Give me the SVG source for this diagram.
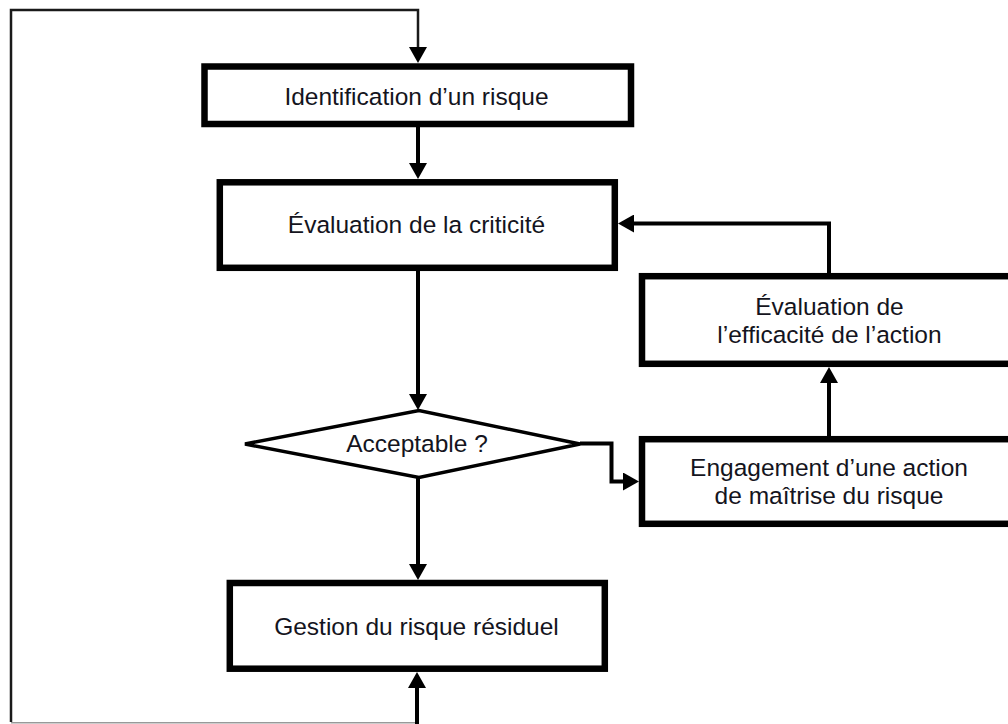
<svg xmlns="http://www.w3.org/2000/svg" width="1008" height="724" viewBox="0 0 1008 724">
<style>
.box{fill:#fff;stroke:#000;stroke-width:6.5}
.dia{fill:#fff;stroke:#000;stroke-width:3.5}
.lbl{font-family:"Liberation Sans",Arial,sans-serif;font-size:24.5px;fill:#141420;text-anchor:middle}
.con{fill:none;stroke:#000;stroke-width:4}
.thin{fill:none;stroke:#1a1a1a;stroke-width:2.5}
.gray{fill:none;stroke:#999;stroke-width:1.5}
</style>
<defs>
<marker id="ah" markerUnits="userSpaceOnUse" markerWidth="16" markerHeight="18" viewBox="0 0 16 18" refX="6" refY="9" orient="auto">
<path d="M0,0 L16,9 L0,18 Z" fill="#000"/>
</marker>
</defs>
<rect width="1008" height="724" fill="#fff"/>
<g id="connectors">
<path class="thin" d="M11,722 L11,10 L418,10 L418,53" marker-end="url(#ah)"/>
<path class="gray" d="M11,722.8 L417,722.8"/>
<path class="con" d="M417,724 L417,682" marker-end="url(#ah)"/>
<path class="con" d="M418,127 L418,169" marker-end="url(#ah)"/>
<path class="con" d="M418,270 L418,400" marker-end="url(#ah)"/>
<path class="con" d="M418,477 L418,570" marker-end="url(#ah)"/>
<path class="con" d="M580,443.5 L611.5,443.5 L611.5,481.5 L629,481.5" stroke-width="3.5" marker-end="url(#ah)"/>
<path class="con" d="M829,436 L829,377" marker-end="url(#ah)"/>
<path class="con" d="M829,273 L829,223.5 L628,223.5" marker-end="url(#ah)"/>
</g>
<g id="n1">
<rect class="box" x="204.5" y="66.5" width="426.5" height="57.5"/>
<text class="lbl" x="416.5" y="105">Identification d’un risque</text>
</g>
<g id="n2">
<rect class="box" x="219.8" y="182.3" width="395" height="85.5"/>
<text class="lbl" x="416.5" y="233">Évaluation de la criticité</text>
</g>
<g id="n3">
<polygon class="dia" points="245,444 419,410.5 580,444 419,477.5"/>
<text class="lbl" x="417" y="452">Acceptable ?</text>
</g>
<g id="n4">
<rect class="box" x="229.8" y="583" width="375" height="85.7"/>
<text class="lbl" x="416.5" y="635">Gestion du risque résiduel</text>
</g>
<g id="n5">
<rect class="box" x="642" y="439.2" width="385" height="84.6"/>
<text class="lbl" x="829" y="476">Engagement d’une action</text>
<text class="lbl" x="829" y="504">de maîtrise du risque</text>
</g>
<g id="n6">
<rect class="box" x="642" y="276.2" width="385" height="87.6"/>
<text class="lbl" x="829.5" y="315">Évaluation de</text>
<text class="lbl" x="829.5" y="343">l’efficacité de l’action</text>
</g>
</svg>
